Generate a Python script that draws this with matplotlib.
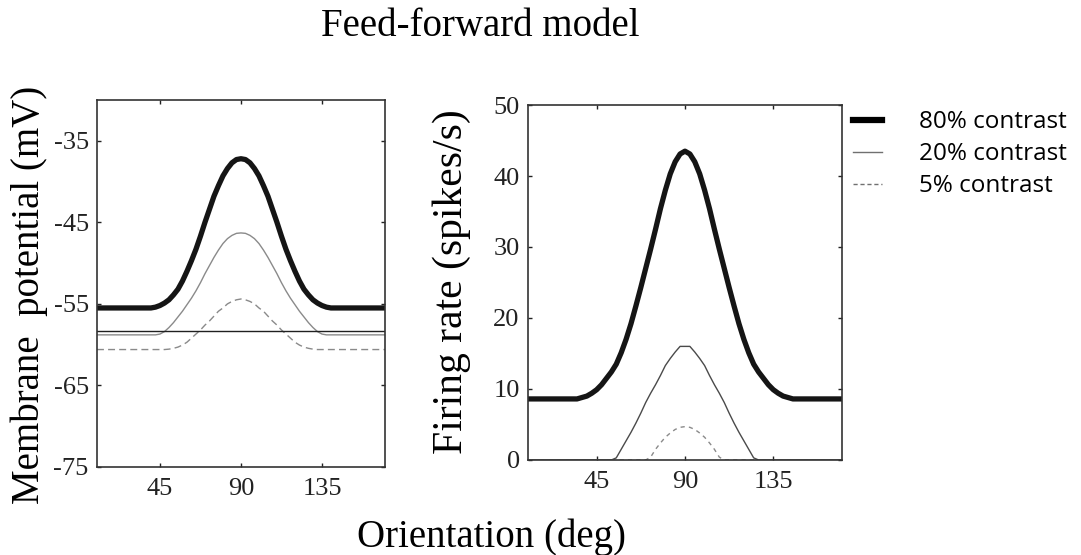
import matplotlib
matplotlib.use("Agg")
import matplotlib.pyplot as plt
from matplotlib.lines import Line2D

# orientation samples (deg), denser around the peak
orientation = [10, 15, 20, 25, 30,
               32.5, 35, 37.5, 40, 42.5, 45, 47.5, 50, 52.5, 55, 57.5, 60, 62.5, 65, 67.5, 70,
               72.5, 75, 77.5, 80, 82.5, 85, 87.5, 90, 92.5, 95, 97.5, 100, 102.5, 105, 107.5,
               110, 112.5, 115, 117.5, 120, 122.5, 125, 127.5, 130, 132.5, 135, 137.5, 140,
               142.5, 145, 147.5,
               150, 155, 160, 165, 170]

# membrane potential (mV)
vm_80 = [-55.5, -55.5, -55.5, -55.5, -55.5,
         -55.5, -55.5, -55.5, -55.5, -55.4, -55.2, -54.9, -54.5, -53.9, -53.2, -52.2, -51.0, -49.7,
         -48.3, -46.7, -45.0, -43.4, -41.8, -40.5, -39.3, -38.4, -37.7, -37.3, -37.2, -37.3, -37.7,
         -38.4, -39.3, -40.5, -41.8, -43.4, -45.0, -46.7, -48.3, -49.7, -51.0, -52.2, -53.2, -53.9,
         -54.5, -54.9, -55.2, -55.4, -55.5, -55.5, -55.5, -55.5,
         -55.5, -55.5, -55.5, -55.5, -55.5]
vm_20 = [-58.8, -58.8, -58.8, -58.8, -58.8,
         -58.8, -58.8, -58.8, -58.8, -58.8, -58.7, -58.4, -57.9, -57.3, -56.6, -55.9, -55.1, -54.3,
         -53.4, -52.4, -51.3, -50.3, -49.3, -48.4, -47.6, -47.0, -46.6, -46.35, -46.3, -46.35, -46.6,
         -47.0, -47.6, -48.4, -49.3, -50.3, -51.3, -52.4, -53.4, -54.3, -55.1, -55.9, -56.6, -57.3,
         -57.9, -58.4, -58.7, -58.8, -58.8, -58.8, -58.8, -58.8,
         -58.8, -58.8, -58.8, -58.8, -58.8]
vm_5 = [-60.6, -60.6, -60.6, -60.6, -60.6,
        -60.6, -60.6, -60.6, -60.6, -60.6, -60.6, -60.6, -60.55, -60.45, -60.3, -60.05, -59.7, -59.2,
        -58.7, -58.2, -57.6, -57.1, -56.5, -55.9, -55.5, -55.0, -54.7, -54.5, -54.4, -54.5, -54.7,
        -55.0, -55.5, -55.9, -56.5, -57.1, -57.6, -58.2, -58.7, -59.2, -59.7, -60.05, -60.3, -60.45,
        -60.55, -60.6, -60.6, -60.6, -60.6, -60.6, -60.6, -60.6,
        -60.6, -60.6, -60.6, -60.6, -60.6]
threshold = -58.3

# firing rate (spikes/s)
rate_80 = [8.6, 8.6, 8.6, 8.6, 8.6,
           8.6, 8.6, 8.8, 9.0, 9.4, 9.9, 10.6, 11.5, 12.4, 13.5, 15.1, 17.0, 19.2, 21.7, 24.3, 27.0,
           29.7, 32.5, 35.4, 38.0, 40.3, 42.0, 43.1, 43.5, 43.1, 42.0, 40.3, 38.0, 35.4, 32.5, 29.7,
           27.0, 24.3, 21.7, 19.2, 17.0, 15.1, 13.5, 12.4, 11.5, 10.6, 9.9, 9.4, 9.0, 8.8, 8.6, 8.6,
           8.6, 8.6, 8.6, 8.6, 8.6]
rate_20 = [0, 0, 0, 0, 0,
           0, 0, 0, 0, 0, 0, 0, 0, 0, 0.3, 1.5, 2.7, 3.9, 5.2, 6.6, 8.1,
           9.4, 10.6, 11.9, 13.3, 14.3, 15.2, 16.0, 16.0, 16.0, 15.2, 14.3, 13.3, 11.9, 10.6, 9.4,
           8.1, 6.6, 5.2, 3.9, 2.7, 1.5, 0.3, 0, 0, 0, 0, 0, 0, 0, 0, 0,
           0, 0, 0, 0, 0]
rate_5 = [0, 0, 0, 0, 0,
          0, 0, 0, 0, 0, 0, 0, 0, 0, 0, 0, 0, 0, 0, 0, 0,
          0.4, 1.5, 2.4, 3.2, 3.8, 4.3, 4.6, 4.7, 4.6, 4.3, 3.8, 3.2, 2.4, 1.5, 0.4,
          0, 0, 0, 0, 0, 0, 0, 0, 0, 0, 0, 0, 0, 0, 0, 0,
          0, 0, 0, 0, 0]

xticks = [45, 90, 135]
vm_ticks = [-75, -65, -55, -45, -35]
rate_ticks = [0, 10, 20, 30, 40, 50]
labels = ["80% contrast", "20% contrast", "5% contrast"]

plt.rcParams["font.family"] = ["Liberation Serif", "DejaVu Serif"]

fig = plt.figure(figsize=(10.81, 5.55), dpi=100)
ax1 = fig.add_axes([0.0897, 0.1586, 0.2664, 0.6612])
ax2 = fig.add_axes([0.4884, 0.1712, 0.2905, 0.6396])

thick = dict(color="#151515", lw=3.8, solid_joinstyle="round")

ax1.plot(orientation, vm_80, **thick)
ax1.plot(orientation, vm_20, color="#8a8a8a", lw=1.0)
ax1.plot(orientation, vm_5, color="#8a8a8a", lw=1.0, ls=(0, (5, 3)))
ax1.axhline(threshold, color="#202020", lw=1.0)
ax1.set_ylim(-75, -30)
ax1.set_yticks(vm_ticks)
ax1.set_yticklabels([str(v) for v in vm_ticks])

ax2.plot(orientation, rate_80, **thick)
ax2.plot(orientation, rate_20, color="#4a4a4a", lw=1.0)
ax2.plot(orientation, rate_5, color="#8a8a8a", lw=1.0, ls=(0, (3, 3)))
ax2.set_ylim(0, 50)
ax2.set_yticks(rate_ticks)

for ax in (ax1, ax2):
    ax.set_xlim(10, 170)
    ax.set_xticks(xticks)
    ax.tick_params(direction="in", length=3, width=1.0, top=True, right=True,
                   labelsize=19, colors="#222222")
    ax.tick_params(axis="x", pad=8)
    ax.tick_params(axis="y", pad=6)
    for s in ax.spines.values():
        s.set_linewidth(1.2)
        s.set_color("#333333")

fig.text(0.027, 0.468, "Membrane  potential (mV)", rotation=90, ha="center", va="center", fontsize=28)
fig.text(0.418, 0.493, "Firing rate (spikes/s)", rotation=90, ha="center", va="center", fontsize=30)
fig.text(0.444, 0.985, "Feed-forward model", ha="center", va="top", fontsize=28)
fig.text(0.455, 0.032, "Orientation (deg)", ha="center", va="center", fontsize=28)

handles = [Line2D([], [], color="black", lw=4.5),
           Line2D([], [], color="#707070", lw=1.0),
           Line2D([], [], color="#707070", lw=1.0, ls=(0, (3, 2)))]
fig.legend(handles, labels, loc="upper left", bbox_to_anchor=(0.789, 0.801), frameon=False,
           prop={"family": "Open Sans", "size": 17.5}, handlelength=1.2, handletextpad=1.5,
           labelspacing=0.33, borderpad=0, borderaxespad=0)

fig.savefig("out.png", dpi=100, facecolor="white")
plt.close("all")
